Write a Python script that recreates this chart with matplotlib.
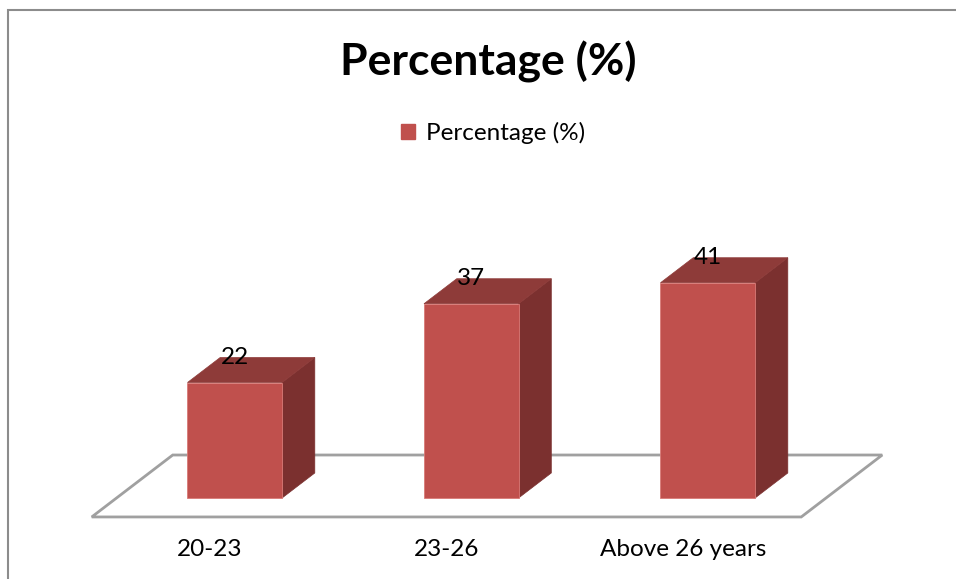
import matplotlib
matplotlib.use("Agg")
import matplotlib.pyplot as plt
from matplotlib.patches import Polygon, Patch, Rectangle

############################################
# DATA
############################################
categories = ["20-23", "23-26", "Above 26 years"]
values = [22, 37, 41]
series_name = "Percentage (%)"
title = "Percentage (%)"

############################################
# STYLE / LAYOUT
############################################
plt.rcParams['font.family'] = ['Lato', 'DejaVu Sans']
W, H, DPI = 956, 579, 100

FRONT = "#C0504D"
TOP = "#8E3B39"
SIDE = "#7B302F"
FLOOR_EC = "#A0A0A0"
FS = 17.5

# oblique projection (depth expressed in data units)
DX = 0.3425      # category units for full floor depth
DY = 11.8        # value units for full floor depth
D0, D1 = 0.306, 0.71   # bar front / back depth fraction
BAR_W = 0.40

# pixel mapping of the plot area
PX_CAT, PX_VAL = 236.5, 5.25
X0_PX, Y0_PX = 210, 498
XLIM = (-0.65, 2.95)
YLIM = (-12, 50)

fig = plt.figure(figsize=(W / DPI, H / DPI), dpi=DPI)
left_px = X0_PX + XLIM[0] * PX_CAT
right_px = X0_PX + XLIM[1] * PX_CAT
bot_px = Y0_PX - YLIM[0] * PX_VAL
top_px = Y0_PX - YLIM[1] * PX_VAL
ax = fig.add_axes([left_px / W, 1 - bot_px / H,
                   (right_px - left_px) / W, (bot_px - top_px) / H])
ax.set_xlim(*XLIM)
ax.set_ylim(*YLIM)
ax.axis('off')

# outer chart border (cut off at right/bottom like the source)
fig.add_artist(Rectangle((8 / W, -0.1), 2, 1 - 10 / H + 0.1, transform=fig.transFigure,
                         fill=False, ec="#8C8C8C", lw=1.5))

# floor
n = len(categories)
fy0 = -D0 * DY
fy1 = (1 - D0) * DY
floor = Polygon([(-0.5, fy0), (n - 0.5, fy0), (n - 0.5 + DX, fy1), (-0.5 + DX, fy1)],
                closed=True, fill=False, ec=FLOOR_EC, lw=2, clip_on=False)
ax.add_patch(floor)

# bars
ddx = (D1 - D0) * DX
ddy = (D1 - D0) * DY
for i, v in enumerate(values):
    cx = i + D0 * DX
    x0, x1 = cx - BAR_W / 2, cx + BAR_W / 2
    side = [(x1, 0), (x1 + ddx, ddy), (x1 + ddx, v + ddy), (x1, v)]
    top = [(x0, v), (x1, v), (x1 + ddx, v + ddy), (x0 + ddx, v + ddy)]
    front = [(x0, 0), (x1, 0), (x1, v), (x0, v)]
    ax.add_patch(Polygon(side, closed=True, fc=SIDE, ec=SIDE, lw=0.5))
    ax.add_patch(Polygon(top, closed=True, fc=TOP, ec=TOP, lw=0.5))
    ax.add_patch(Polygon(front, closed=True, fc=FRONT, ec="#D97A77", lw=0.6))
    ax.text(cx, v + ddy, str(v), ha='center', va='center', fontsize=FS, color='black',
            clip_on=False)
    ax.text(i, -9.9, categories[i], ha='center', va='center', fontsize=FS, color='black',
            clip_on=False)

# title and legend
fig.text(488 / W, 1 - 62 / H, title, ha='center', va='center',
         fontsize=32, fontweight='bold')
fig.legend(handles=[Patch(fc=FRONT, ec=FRONT, label=series_name)],
           loc='center', bbox_to_anchor=(493 / W, 1 - 133 / H), frameon=False,
           fontsize=FS, handlelength=0.6, handleheight=0.6, handletextpad=0.45,
           borderpad=0, borderaxespad=0)

fig.savefig("out.png", dpi=DPI)
